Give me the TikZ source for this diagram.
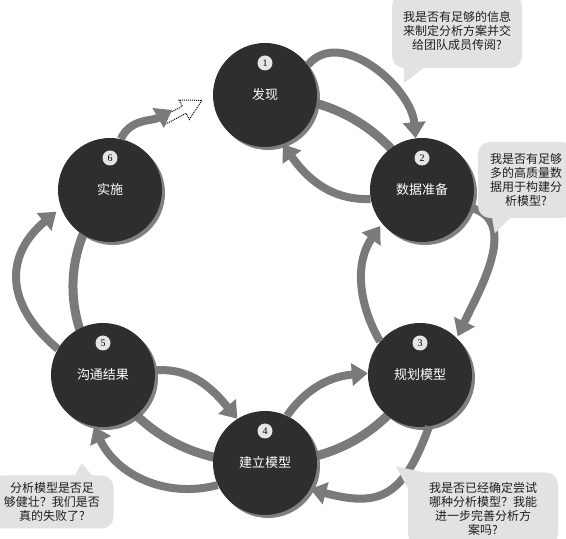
\documentclass[tikz,border=0pt]{standalone}
\usepackage{fontspec}
\setmainfont{Noto Sans CJK SC}
\newfontfamily\numfont{Liberation Serif}
\usetikzlibrary{arrows.meta,shadows,backgrounds}
\definecolor{circfill}{HTML}{2E2E2E}
\definecolor{arrgray}{HTML}{7A7A7A}
\definecolor{bubfill}{HTML}{E2E2E2}
\definecolor{txtdark}{HTML}{1E1E1E}
\begin{document}
\begin{tikzpicture}[x=1pt,y=1pt,
  stage/.style={circle,fill=circfill,minimum size=104pt,inner sep=0pt,text=white,
    font=\fontsize{13}{15}\selectfont,
    drop shadow={shadow xshift=3pt,shadow yshift=-3pt,fill=black!55,opacity=0.9}},
  badge/.style={circle,fill=white!90!black,minimum size=15pt,inner sep=0pt,
    font=\numfont\fontsize{10}{10}\selectfont,text=black},
  garrow/.style={draw=arrgray,line width=8pt,-{Triangle[length=16pt,width=22pt]}},
  band/.style={draw=arrgray,line width=9pt},
  bubble/.style={fill=bubfill,rounded corners=12pt,align=center,text=txtdark,
    font=\fontsize{12}{14}\selectfont,inner sep=0pt},
  tail/.style={fill=bubfill},
  ghost/.style={draw=black,densely dotted,line width=1pt,fill=white}]
\clip (0,0) rectangle (566,539);

% stages
\node[stage] (c1) at (265,444) {发现};
\node[stage] (c2) at (422,349) {数据准备};
\node[stage] (c3) at (420,164) {规划模型};
\node[stage] (c4) at (265,76) {建立模型};
\node[stage] (c5) at (103,164) {沟通结果};
\node[stage] (c6) at (110,349) {实施};

\node[badge] (n1) at ([yshift=32pt]c1.center) {1};
\node[badge] (n2) at ([yshift=32pt]c2.center) {2};
\node[badge] (n3) at ([yshift=32pt]c3.center) {3};
\node[badge] (n4) at ([yshift=32pt]c4.center) {4};
\node[badge] (n5) at ([yshift=32pt]c5.center) {5};
\node[badge] (n6) at ([yshift=32pt]c6.center) {6};

% white page and ring bands behind the circles
\begin{scope}[on background layer]
  \fill[white] (0,0) rectangle (566,539);
  \draw[band] (c1.center) to[bend left=28] (c2.center);
  \draw[band] (c3.center) to[bend left=28] (c4.center);
  \draw[band] (c4.center) to[bend left=28] (c5.center);
  \draw[band] (c5.center) to[bend left=38] (c6.center);
\end{scope}

% dotted ghost arrow toward stage 1
\coordinate (g0) at (163,418);
\coordinate (g1) at (172,429);
\begin{scope}[shift={(g0)},rotate=28]
  \draw[ghost] (0,4) -- (24,4) -- (24,11) -- (44,0) -- (24,-11) -- (24,-4) -- (0,-4) -- cycle;
\end{scope}

% arrows
\draw[garrow] (c6.78) to[out=65,in=210] (g1);
\draw[garrow] (c1.35) to[out=50,in=95] (c2.97);
\draw[garrow] (c2.190) to[out=182,in=-55] (c1.-70);
\draw[garrow,shorten >=2pt] (c2.-20) to[out=-15,in=65] (c3.45);
\draw[garrow,shorten >=3pt] (c3.140) to[out=120,in=-125] (c2.-140);
\draw[garrow] (c4.65) to[out=55,in=185] (c3.178);
\draw[garrow] (c3.-80) to[out=-110,in=-15,looseness=1.4] (c4.-30);
\draw[garrow] (c5.5) to[out=5,in=130] (c4.122);
\draw[garrow] (c4.-155) to[out=195,in=-65] (c5.-100);
\draw[garrow,shorten >=6pt] (c5.150) to[out=140,in=-140,looseness=1.3] (c6.-160);

% speech bubbles
\node[bubble,minimum width=130pt,minimum height=74pt] (b1) at (457,508)
  {我是否有足够的信息\\来制定分析方案并交\\给团队成员传阅?};
\fill[tail] ([xshift=12pt,yshift=2pt]b1.south west) -- ++(0,-17) -- ++(22,17) -- cycle;

\node[bubble,minimum width=96pt,minimum height=76pt] (b2) at (526,359)
  {我是否有足够\\多的高质量数\\据用于构建分\\析模型?};
\fill[tail] ([xshift=14pt,yshift=2pt]b2.south west) -- ++(3,-17) -- ++(17,17) -- cycle;

\node[bubble,minimum width=150pt,minimum height=73pt] (b3) at (483,30)
  {我是否已经确定尝试\\哪种分析模型？我能\\进一步完善分析方\\案吗?};
\fill[tail] ([yshift=-16pt]b3.north west) -- ++(16,16) -- ++(-28,6) -- cycle;

\node[bubble,minimum width=123pt,minimum height=53pt] (b4) at (52,37)
  {分析模型是否足\\够健壮？我们是否\\真的失败了?};
\fill[tail] ([xshift=-40pt,yshift=-2pt]b4.north east) -- ++(8,14) -- ++(12,-14) -- cycle;
\end{tikzpicture}
\end{document}
